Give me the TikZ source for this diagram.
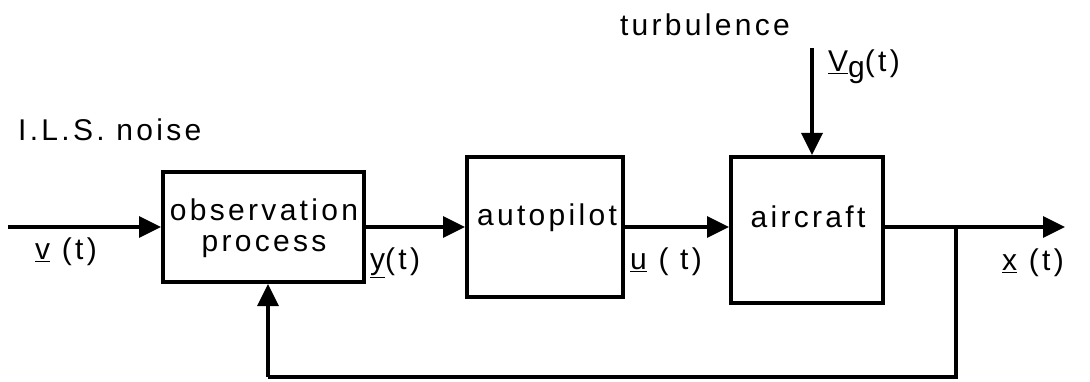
\documentclass[tikz,border=0pt]{standalone}
\usepackage{fontspec}
\setmainfont{Liberation Sans}[LetterSpace=11]
\usetikzlibrary{arrows.meta}
\tikzset{
  blk/.style={draw, line width=4pt, rectangle, inner sep=0pt},
  lbl/.style={font=\fontsize{30}{34}\selectfont, inner sep=0pt},
  sig/.style={line width=3.5pt, -{Triangle[length=22pt,width=21pt]}},
  wire/.style={line width=3.5pt},
}
\begin{document}
\begin{tikzpicture}[x=1pt,y=-1pt]
\useasboundingbox (0,0) rectangle (1090,382);
% blocks
\node[blk, minimum width=201pt, minimum height=110pt] (obs) at (263.5,227) {};
\node[blk, minimum width=156pt, minimum height=140pt] (auto) at (545,227) {};
\node[blk, minimum width=152pt, minimum height=146pt] (air) at (807,230) {};
% block texts
\node[lbl] (obst) at (264,210) {observation};
\node[lbl] (obsp) at (264,247) {process};
\node[lbl] (autot) at (547,218) {autopilot};
\node[lbl] (airt) at (808,217) {aircraft};
% coordinates
\coordinate (in) at (8,227);
\coordinate (out) at (1065,227);
\coordinate (br) at (956,227);
\coordinate (brd) at (956,377);
\coordinate (fb) at (268,377);
\coordinate (turb) at (812,48);
% connectors
\draw[sig] (in) -- (in -| obs.west);
\draw[sig] (obs.east |- in) -- (auto.west |- in);
\draw[sig] (auto.east |- in) -- (air.west |- in);
\draw[sig] (air.east |- in) -- (out);
\draw[wire] (br) -- (brd) -- (fb);
\draw[sig] (fb) -- (fb |- obs.south);
\draw[sig] (turb) -- (turb |- air.north);
% labels
\node[lbl] (turbl) at (705,25) {turbulence};
\node[lbl, anchor=west] (vg) at (828,67) {\underline{V}\raisebox{-0.35ex}{g}(t)};
\node[lbl, anchor=west] (ils) at (18,130) {I.L.S. noise};
\node[lbl] (vl) at (66,252) {\underline{v} (t)};
\node[lbl, anchor=west] (yl) at (370,263) {\underline{y}(t)};
\node[lbl, anchor=west] (ul) at (630,262) {\underline{u} ( t)};
\node[lbl, anchor=west] (xl) at (1002,263) {\underline{x} (t)};
\end{tikzpicture}
\end{document}
